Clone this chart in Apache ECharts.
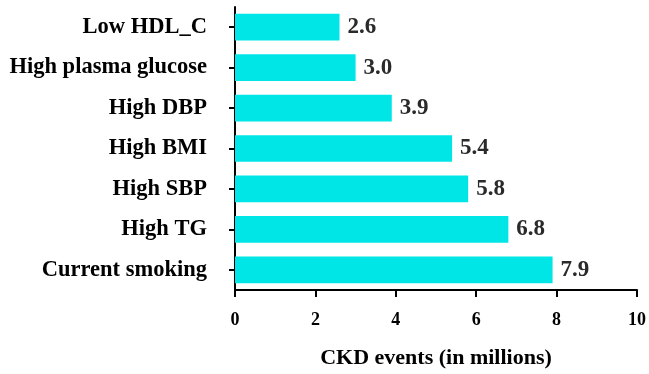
<!DOCTYPE html>
<html><head><meta charset="utf-8">
<script src="https://cdn.jsdelivr.net/npm/echarts@6/dist/echarts.min.js"></script>
<style>html,body{margin:0;padding:0;background:#fff}#c{width:649px;height:374px}</style>
</head><body><div id="c"></div>
<script>
const categories = ["Current smoking","High TG","High SBP","High BMI","High DBP","High plasma glucose","Low HDL_C"];
const values = [7.9, 6.8, 5.8, 5.4, 3.9, 3.0, 2.6];
const xTicks = [0, 2, 4, 6, 8, 10];
const xTitle = "CKD events (in millions)";
const font = "'Liberation Serif','Times New Roman',serif";
const chart = echarts.init(document.getElementById('c'), null, {renderer:'canvas'});
chart.setOption({
  animation:false,
  grid:{left:235, right:8, top:7, bottom:79, containLabel:false},
  xAxis:{type:'value', min:xTicks[0], max:xTicks[xTicks.length-1], interval:2,
    axisLine:{show:true, lineStyle:{color:'#000', width:2}},
    axisTick:{show:true, length:7, lineStyle:{color:'#000', width:2}},
    axisLabel:{color:'#000', fontFamily:font, fontWeight:'bold', fontSize:18, margin:21},
    splitLine:{show:false},
    name:xTitle, nameLocation:'middle', nameGap:57,
    nameTextStyle:{color:'#000', fontFamily:font, fontWeight:'bold', fontSize:22}},
  yAxis:{type:'category', data:categories,
    axisLine:{show:true, lineStyle:{color:'#000', width:2}},
    axisTick:{show:true, alignWithLabel:true, length:6, lineStyle:{color:'#000', width:2}},
    axisLabel:{color:'#000', fontFamily:font, fontWeight:'bold', fontSize:22.5, margin:28}},
  series:[{type:'bar', data:values, barCategoryGap:'34%',
    itemStyle:{color:'#00E6E6'},
    label:{show:true, position:'right', distance:8, formatter:p=>p.value.toFixed(1),
      color:'#2a2a2a', fontFamily:font, fontWeight:'bold', fontSize:23}}]
});
</script></body></html>
